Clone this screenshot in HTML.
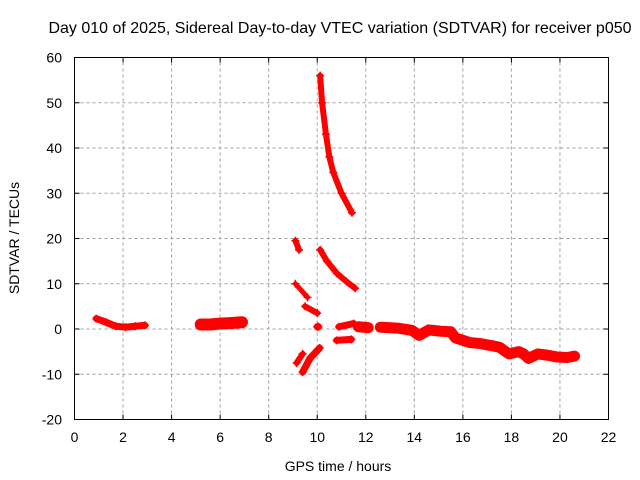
<!DOCTYPE html>
<html><head><meta charset="utf-8"><style>
body{margin:0;background:#fff;}
svg{display:block;font-family:"Liberation Sans",sans-serif;}
</style></head><body>
<svg id="chart" width="640" height="480">
<text x="340" y="33" font-size="16" text-anchor="middle">Day 010 of 2025, Sidereal Day-to-day VTEC variation (SDTVAR) for receiver p050</text>
<text x="338" y="471" font-size="14" text-anchor="middle">GPS time / hours</text>
<text transform="translate(19,238) rotate(-90)" font-size="14" text-anchor="middle">SDTVAR / TECUs</text>
<g id="grid"></g>
<g id="ticks"></g>
<g id="marks"></g>
<rect x="74.5" y="57.5" width="534" height="362" fill="none" stroke="#000" stroke-width="1"/>
</svg>
<script>
const xTicks=[0,2,4,6,8,10,12,14,16,18,20,22];
const yTicks=[-20,-10,0,10,20,30,40,50,60];
// segments: hours and SDTVAR values, plus band thickness
const seg1T=[0.9,1.3,1.7,2.1,2.5,2.9];
const seg1V=[2.3,1.5,0.6,0.4,0.6,0.8];
const seg2T=[5.2,5.6,6.0,6.4,6.9];
const seg2V=[1.0,1.0,1.2,1.3,1.5];
const seg3T=[9.1,9.25];
const seg3V=[19.5,17.5];
const seg4T=[9.1,9.6];
const seg4V=[10,7];
const seg5T=[9.5,10.0];
const seg5V=[5,3.5];
const seg6T=[10.0,10.05];
const seg6V=[0.5,0.5];
const seg7T=[10.12,10.2,10.36,10.5,10.66,11.0,11.43];
const seg7V=[56,50,43,38,34.6,30,25.7];
const seg8T=[10.12,10.4,10.81,11.2,11.56];
const seg8V=[17.5,15,12.3,10.5,9.0];
const seg9T=[9.4,9.7,10.1];
const seg9V=[-9.5,-6.5,-4.2];
const seg10T=[9.15,9.4];
const seg10V=[-7.5,-5.5];
const seg11T=[10.8,11.4];
const seg11V=[-2.5,-2.3];
const seg12T=[10.9,11.5];
const seg12V=[0.5,1.2];
const seg13T=[11.7,12.1];
const seg13V=[0.5,0.3];
const seg14T=[12.6,13.3,13.9,14.2,14.6,15.1,15.5,15.7,16.3,16.7,17.1,17.5,17.9,18.3,18.5,18.7,19.1,19.5,19.9,20.3,20.6];
const seg14V=[0.4,0.2,-0.3,-1.4,-0.2,-0.5,-0.6,-2.0,-3.0,-3.2,-3.6,-4.0,-5.5,-5.0,-5.5,-6.5,-5.5,-5.8,-6.2,-6.3,-6.0];
const segs=[[seg1T,seg1V,7],[seg2T,seg2V,12],[seg3T,seg3V,6],[seg4T,seg4V,5],[seg5T,seg5V,6],[seg6T,seg6V,7],[seg7T,seg7V,6],[seg8T,seg8V,6],[seg9T,seg9V,7],[seg10T,seg10V,6],[seg11T,seg11V,7],[seg12T,seg12V,7],[seg13T,seg13V,11],[seg14T,seg14V,11]];
const NS="http://www.w3.org/2000/svg";
const X0=74.5,X1=608.5,Y0=419.5,Y1=57.5;
const sx=t=>X0+(t-0)/(22-0)*(X1-X0);
const sy=v=>Y0-(v+20)/80*(Y0-Y1);
const grid=document.getElementById('grid'),ticks=document.getElementById('ticks'),marks=document.getElementById('marks');
function mk(tag,attrs,parent){const e=document.createElementNS(NS,tag);for(const k in attrs)e.setAttribute(k,attrs[k]);parent.appendChild(e);return e;}
xTicks.forEach(t=>{const x=sx(t);
 if(t>0&&t<22){const g=mk('line',{x1:x,x2:x,y1:Y0,y2:Y1,stroke:'#a0a0a0','stroke-dasharray':'3,3'},grid);}
 mk('line',{x1:x,x2:x,y1:Y0,y2:Y0-5,stroke:'#000'},ticks);mk('line',{x1:x,x2:x,y1:Y1,y2:Y1+5,stroke:'#000'},ticks);
 const l=mk('text',{x:x,y:442,'font-size':14,'text-anchor':'middle'},ticks);l.textContent=t;
 
 });
yTicks.forEach(v=>{const y=sy(v);
 if(v>-20&&v<60){const g=mk('line',{x1:X0,x2:X1,y1:y,y2:y,stroke:'#a0a0a0','stroke-dasharray':'3,3'},grid);}
 mk('line',{x1:X0,x2:X0+5,y1:y,y2:y,stroke:'#000'},ticks);mk('line',{x1:X1,x2:X1-5,y1:y,y2:y,stroke:'#000'},ticks);
 const l=mk('text',{x:62,y:y+5,'font-size':14,'text-anchor':'end'},ticks);l.textContent=v;
 
 });
segs.forEach(([T,V,w])=>{
 const pts=T.map((t,i)=>sx(t)+','+sy(V[i])).join(' ');
 const pl=mk('polyline',{points:pts,fill:'none',stroke:'#ff0000','stroke-width':w,'stroke-linejoin':'round','stroke-linecap':'round'},marks);
 
 
 T.forEach((t,i)=>{const x=sx(t),y=sy(V[i]);
  const p=mk('path',{d:`M${x-4},${y}h8M${x},${y-4}v8`,stroke:'#ff0000','stroke-width':1.5},marks);
  
  });
});
</script>
</body></html>
